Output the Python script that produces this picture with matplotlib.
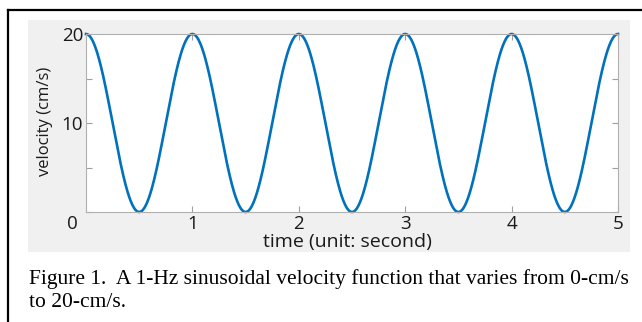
import numpy as np
import matplotlib.pyplot as plt
from matplotlib.patches import Rectangle
from matplotlib.lines import Line2D

# values: 1 Hz, 0..20 cm/s, 5 seconds
freq_hz = 1.0
v_min = 0.0
v_max = 20.0
t_end = 5.0
x_ticks = [1, 2, 3, 4, 5]
y_ticks = [0, 5, 10, 15, 20]
y_labels = ["", "", "10", "", "20"]
caption = ["Figure 1.  A 1-Hz sinusoidal velocity function that varies from 0-cm/s",
           "to 20-cm/s."]

t = np.linspace(0, t_end, 1001)
v = v_min + (v_max - v_min) * (0.5 + 0.5 * np.cos(2 * np.pi * freq_hz * t))

W, H = 642, 322
fig = plt.figure(figsize=(W / 100, H / 100), dpi=100)
fig.patch.set_facecolor("white")

# grey panel behind the plot
fig.patches.append(Rectangle((28 / W, 1 - 252 / H), 602 / W, 232 / H,
                             transform=fig.transFigure, facecolor="#f0f0f0",
                             edgecolor="none", zorder=-1))
# page frame (top and left)
fig.lines.append(Line2D([8 / W, 8 / W], [0, 1 - 10 / H], transform=fig.transFigure,
                        color="black", lw=1.6))
fig.lines.append(Line2D([8 / W, 1], [1 - 10 / H, 1 - 10 / H], transform=fig.transFigure,
                        color="black", lw=1.6))

font = "Open Sans"
txt = "#1a1a1a"
ax = fig.add_axes([86 / W, 1 - 212 / H, (618 - 86) / W, (212 - 34) / H])
ax.set_zorder(1)
ax.set_facecolor("white")
ax.plot(t, v, color="#0072BD", lw=1.9, clip_on=False)
ax.set_xlim(0, t_end)
ax.set_ylim(v_min, v_max)
ax.set_xticks(x_ticks)
ax.set_yticks(y_ticks)
ax.set_yticklabels(y_labels)
for s in ax.spines.values():
    s.set_color("#b0b0b0")
    s.set_linewidth(0.8)
ax.tick_params(direction="in", length=4, width=0.8, color="#a0a0a0",
               top=True, right=True, labelsize=13.5, labelcolor=txt, pad=2)
for lab in ax.get_xticklabels() + ax.get_yticklabels():
    lab.set_family(font)

fig.text(72 / W, 1 - 224 / H, "0", fontsize=13.5, family=font, color=txt,
         ha="center", va="center")
fig.text(45 / W, 1 - 121 / H, "velocity (cm/s)", fontsize=12, family=font,
         color=txt, rotation=90, ha="center", va="center")
fig.text(347 / W, 1 - 242 / H, "time (unit: second)", fontsize=14, family=font,
         color=txt, ha="center", va="center")

fig.text(29 / W, 1 - 284 / H, caption[0], fontsize=15.5, family="Liberation Serif",
         ha="left", va="baseline")
fig.text(29 / W, 1 - 307 / H, caption[1], fontsize=15.5, family="Liberation Serif",
         ha="left", va="baseline")

fig.savefig("out.png", dpi=100)
